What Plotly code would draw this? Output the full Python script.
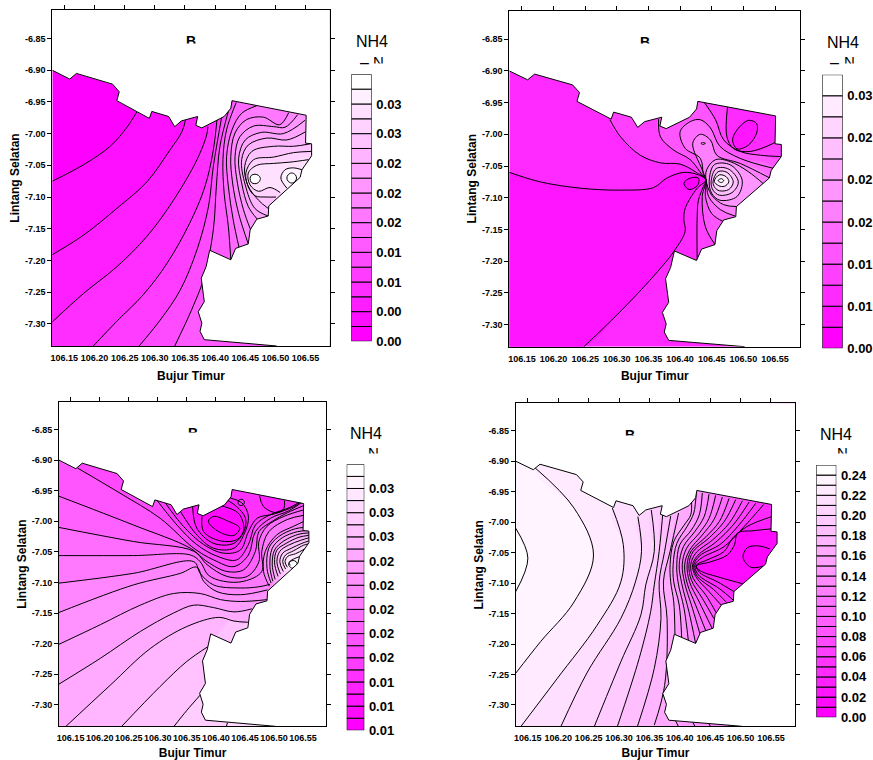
import plotly.graph_objects as go

# ---------------- shared reading of the map ----------------
COAST_LON = [106.13,106.159,106.170,106.230,106.241,106.237,106.291,106.295,106.323,106.333,106.344,106.371,106.368,106.378,106.415,106.426,106.428,106.551,106.550,106.560,106.560,106.544,106.541,106.489,106.488,106.469,106.458,106.455,106.434,106.426,106.391,106.385,106.377,106.382,106.372,106.378,106.375,106.382,106.502]
COAST_LAT = [-6.900,-6.914,-6.905,-6.922,-6.934,-6.948,-6.976,-6.965,-6.973,-6.989,-6.980,-6.973,-6.987,-6.991,-6.973,-6.960,-6.948,-6.971,-7.015,-7.016,-7.035,-7.057,-7.069,-7.114,-7.130,-7.135,-7.152,-7.174,-7.181,-7.199,-7.184,-7.210,-7.228,-7.265,-7.281,-7.299,-7.312,-7.325,-7.335]
X_RANGE = [106.13, 106.59]
Y_RANGE = [-7.335, -6.805]
LON_TICKS = [106.15,106.20,106.25,106.30,106.35,106.40,106.45,106.50,106.55]
LON_LABELS = ["106.15","106.20","106.25","106.30","106.35","106.40","106.45","106.50","106.55"]
LAT_TICKS = [-6.85,-6.90,-6.95,-7.00,-7.05,-7.10,-7.15,-7.20,-7.25,-7.30]
LAT_LABELS = ["-6.85","-6.90","-6.95","-7.00","-7.05","-7.10","-7.15","-7.20","-7.25","-7.30"]

# ---------------- colour scale levels and labels ----------------
P1_LEVELS = [0,.002,.004,.006,.008,.010,.012,.014,.016,.018,.020,.022,.024,.026,.028,.030,.032,.034,.036]
P1_TICKS = [0,.004,.008,.012,.016,.020,.024,.028,.032]
P1_LABELS = ["0.00","0.00","0.01","0.01","0.02","0.02","0.02","0.03","0.03"]
P2_LEVELS = [0,.0025,.005,.0075,.01,.0125,.015,.0175,.02,.0225,.025,.0275,.03,.0325]
P2_TICKS = [0,.005,.01,.015,.02,.025,.03]
P2_LABELS = ["0.00","0.01","0.01","0.02","0.02","0.02","0.03"]
P3_LEVELS = [.0075,.00875,.01,.01125,.0125,.01375,.015,.01625,.0175,.01875,.02,.02125,.0225,.02375,.025,.02625,.0275,.02875,.03,.03125,.0325,.03375,.035]
P3_TICKS = [.0075,.01,.0125,.015,.0175,.02,.0225,.025,.0275,.03,.0325]
P3_LABELS = ["0.01","0.01","0.01","0.02","0.02","0.02","0.02","0.02","0.03","0.03","0.03"]
P4_LEVELS = [0,.01,.02,.03,.04,.05,.06,.07,.08,.09,.10,.11,.12,.13,.14,.15,.16,.17,.18,.19,.20,.21,.22,.23,.24,.25]
P4_TICKS = [0,.02,.04,.06,.08,.10,.12,.14,.16,.18,.20,.22,.24]
P4_LABELS = ["0.00","0.02","0.04","0.06","0.08","0.10","0.12","0.14","0.16","0.18","0.20","0.22","0.24"]

# ---------------- isolines: (band above line, lon, lat, closure) ----------------
P1_BASE = 0
P1_LINES = [
 (1,[106.13,106.182,106.226,106.253,106.270],[-7.075,-7.049,-7.020,-6.991,-6.966],"EW"),
 (2,[106.13,106.182,106.237,106.287,106.325,106.345,106.351],[-7.191,-7.160,-7.118,-7.076,-7.026,-6.997,-6.978],"EW"),
 (3,[106.13,106.182,106.237,106.287,106.331,106.370,106.386,106.388],[-7.297,-7.252,-7.210,-7.162,-7.105,-7.041,-7.002,-6.989],"EW"),
 (4,[106.198,106.237,106.281,106.320,106.358,106.383,106.397,106.403],[-7.335,-7.296,-7.254,-7.205,-7.141,-7.084,-7.026,-6.978],"E"),
 (5,[106.274,106.309,106.342,106.370,106.389,106.397,106.411],[-7.335,-7.294,-7.247,-7.183,-7.115,-7.052,-6.973],"E"),
 (6,[106.333,106.361,106.382,106.397,106.402,106.408,106.422],[-7.335,-7.278,-7.226,-7.152,-7.084,-7.020,-6.965],"E"),
 (7,[106.426,106.422,106.415,106.413,106.419,106.435],[-7.200,-7.147,-7.094,-7.041,-6.994,-6.951],"E"),
 (8,[106.440,106.430,106.422,106.419,106.428,106.444,106.469],[-7.181,-7.136,-7.084,-7.036,-6.994,-6.968,-6.956],"E"),
 (9,[106.455,106.439,106.429,106.426,106.433,106.452,106.480,106.507,106.522],[-7.174,-7.126,-7.078,-7.036,-6.999,-6.978,-6.974,-6.986,-6.967],"E"),
 (10,[106.459,106.447,106.437,106.433,106.441,106.464,106.497,106.516,106.537],[-7.152,-7.120,-7.078,-7.036,-7.005,-6.988,-6.989,-6.990,-6.970],"E"),
 (11,[106.470,106.455,106.444,106.439,106.450,106.477,106.513,106.549],[-7.135,-7.115,-7.078,-7.039,-7.010,-6.998,-7.000,-6.979],"E"),
 (12,[106.488,106.466,106.450,106.444,106.455,106.486,106.519,106.550],[-7.130,-7.118,-7.081,-7.041,-7.018,-7.007,-7.010,-6.997],"E"),
 (13,[106.488,106.472,106.454,106.449,106.461,106.497,106.530,106.558],[-7.118,-7.105,-7.081,-7.052,-7.028,-7.020,-7.020,-7.016],"E"),
 (14,[106.501,106.486,106.466,106.455,106.451,106.464,106.497,106.530,106.560],[-7.100,-7.100,-7.098,-7.084,-7.062,-7.041,-7.037,-7.030,-7.028],"E"),
 (15,[106.508,106.491,106.472,106.458,106.455,106.469,106.497,106.524,106.555],[-7.093,-7.085,-7.091,-7.081,-7.062,-7.050,-7.047,-7.045,-7.041],"S"),
 (16,[106.519,106.509,106.516,106.530,106.544],[-7.086,-7.070,-7.057,-7.054,-7.057],"S"),
 (17,[106.458,106.460,106.466,106.472,106.475,106.472,106.466,106.460],[-7.071,-7.066,-7.064,-7.066,-7.071,-7.077,-7.079,-7.077],"ring"),
 (17,[106.519,106.521,106.527,106.533,106.535,106.533,106.527,106.521],[-7.070,-7.065,-7.062,-7.065,-7.070,-7.075,-7.078,-7.075],"ring"),
]
P2_BASE = 2
P2_LINES = [
 (1,[106.13,106.179,106.243,106.306,106.358,106.379,106.406,106.429,106.441,106.427,106.408,106.406,106.408,106.390,106.364,106.311,106.248],[-7.060,-7.075,-7.085,-7.088,-7.084,-7.069,-7.060,-7.064,-7.072,-7.085,-7.117,-7.135,-7.153,-7.185,-7.217,-7.274,-7.335],"W"),
 (0,[106.406,106.416,106.429,106.428,106.414],[-7.077,-7.069,-7.069,-7.080,-7.087],"ring"),
 (3,[106.427,106.427,106.429,106.437,106.441,106.424,106.400,106.369,106.337,106.306,106.289],[-7.198,-7.130,-7.104,-7.082,-7.072,-7.059,-7.047,-7.045,-7.033,-7.004,-6.977],"E"),
 (4,[106.456,106.440,106.435,106.441,106.437,106.416,106.390,106.369,106.366],[-7.175,-7.146,-7.098,-7.072,-7.067,-7.040,-7.025,-7.004,-6.976],"E"),
 (3,[106.437,106.456,106.469,106.495,106.527,106.559],[-6.948,-6.977,-7.009,-7.027,-7.033,-7.035],"NE"),
 (2,[106.475,106.474,106.485,106.511,106.550],[-6.956,-7.004,-7.023,-7.027,-7.013],"NE"),
 (1,[106.483,106.490,106.508,106.521,106.521,106.508,106.490],[-7.009,-6.993,-6.978,-6.983,-6.998,-7.017,-7.023],"ring"),
 (5,[106.469,106.450,106.440,106.441,106.437,106.432,106.408,106.400,106.416,106.432,106.448,106.463,106.495,106.549],[-7.138,-7.125,-7.098,-7.072,-7.064,-7.038,-7.022,-6.996,-6.980,-6.977,-6.990,-7.019,-7.038,-7.054],"S"),
 (6,[106.487,106.464,106.445,106.441,106.435,106.420,106.432,106.448,106.458,106.495,106.542],[-7.129,-7.119,-7.098,-7.072,-7.056,-7.014,-7.000,-7.009,-7.033,-7.046,-7.069],"S"),
 (7,[106.433,106.436,106.440,106.436],[-7.014,-7.013,-7.014,-7.016],"ring"),
 (7,[106.490,106.469,106.450,106.441,106.442,106.456,106.479,106.508,106.534],[-7.114,-7.111,-7.096,-7.072,-7.056,-7.040,-7.043,-7.059,-7.080],"S"),
 (8,[106.446,106.454,106.479,106.498,106.490,106.463,106.450],[-7.075,-7.048,-7.048,-7.072,-7.098,-7.104,-7.093],"ring"),
 (9,[106.449,106.457,106.477,106.492,106.482,106.462,106.452],[-7.075,-7.054,-7.055,-7.075,-7.092,-7.096,-7.088],"ring"),
 (10,[106.452,106.460,106.474,106.484,106.477,106.462,106.455],[-7.075,-7.059,-7.060,-7.075,-7.087,-7.089,-7.084],"ring"),
 (11,[106.454,106.462,106.473,106.477,106.470,106.461],[-7.074,-7.064,-7.067,-7.075,-7.082,-7.081],"ring"),
 (12,[106.460,106.465,106.469,106.465],[-7.073,-7.070,-7.073,-7.076],"ring"),
]
P3_BASE = 18
P3_LINES = [
 (17,[106.418,106.420],[-7.335,-7.329],"NS"),
 (16,[106.328,106.350,106.373],[-7.335,-7.309,-7.284],"NS"),
 (15,[106.238,106.304,106.350,106.386],[-7.335,-7.270,-7.229,-7.205],"NS"),
 (14,[106.142,106.218,106.287,106.350,106.405,106.431,106.455],[-7.335,-7.268,-7.208,-7.172,-7.157,-7.163,-7.165],"NS"),
 (13,[106.13,106.201,106.270,106.327,106.362,106.396,106.431,106.462],[-7.266,-7.224,-7.180,-7.150,-7.137,-7.141,-7.148,-7.143],"N"),
 (12,[106.13,106.201,106.270,106.327,106.373,106.408,106.442,106.488],[-7.201,-7.169,-7.137,-7.118,-7.118,-7.128,-7.131,-7.128],"N"),
 (11,[106.13,106.258,106.339,106.367,106.379,106.402,106.442,106.489],[-7.149,-7.104,-7.085,-7.075,-7.098,-7.115,-7.120,-7.112],"N"),
 (10,[106.13,106.258,106.362,106.373,106.396,106.442,106.474,106.493],[-7.101,-7.085,-7.066,-7.085,-7.104,-7.109,-7.107,-7.103],"N"),
 (9,[106.13,106.258,106.356,106.373,106.387,106.413,106.448,106.479,106.479,106.491,106.523,106.552],[-7.056,-7.056,-7.055,-7.066,-7.088,-7.098,-7.098,-7.082,-7.049,-7.017,-6.997,-6.990],"N"),
 (8,[106.13,106.258,106.362,106.385,106.419,106.454,106.474,106.474,106.488,106.517,106.552],[-7.010,-7.033,-7.049,-7.071,-7.090,-7.090,-7.066,-7.033,-7.008,-6.992,-6.981],"N"),
 (7,[106.13,106.258,106.356,106.385,106.419,106.448,106.468,106.474,106.497,106.523,106.552],[-6.959,-7.006,-7.044,-7.066,-7.082,-7.079,-7.049,-7.017,-7.000,-6.986,-6.974],"N"),
 (6,[106.162,106.235,106.304,106.362,106.396,106.431,106.456,106.468,106.494,106.525,106.551],[-6.913,-6.954,-6.995,-7.044,-7.063,-7.074,-7.055,-7.017,-6.995,-6.983,-6.967],"N"),
 (5,[106.298,106.333,106.367,106.402,106.436,106.456,106.468,106.494,106.528,106.550],[-6.965,-7.006,-7.038,-7.057,-7.063,-7.038,-7.006,-6.989,-6.977,-6.965],"N"),
 (4,[106.313,106.344,106.379,106.413,106.442,106.456,106.471,106.500,106.534,106.548],[-6.970,-7.008,-7.038,-7.052,-7.047,-7.017,-6.995,-6.988,-6.976,-6.967],"N"),
 (3,[106.339,106.367,106.396,106.431,106.448,106.456,106.445,106.425],[-6.984,-7.022,-7.044,-7.044,-7.022,-6.992,-6.970,-6.962],"TOP"),
 (2,[106.360,106.367,106.396,106.431,106.448,106.451,106.436,106.419],[-6.976,-7.011,-7.036,-7.036,-7.017,-6.995,-6.976,-6.965],"TOP"),
 (1,[106.376,106.379,106.408,106.436,106.448,106.439,106.402],[-6.992,-7.017,-7.032,-7.030,-7.014,-6.987,-6.973],"TOP"),
 (0,[106.387,106.396,106.419,106.441,106.431,106.405],[-7.000,-6.992,-6.999,-7.011,-7.023,-7.017],"ring"),
 (3,[106.475,106.482,106.505,106.517,106.518],[-6.958,-6.976,-6.986,-6.979,-6.966],"TOP2"),
 (5,[106.438,106.440,106.443,106.447,106.449,106.447,106.443,106.440],[-6.969,-6.965,-6.964,-6.965,-6.969,-6.973,-6.974,-6.973],"ring"),
 (11,[106.492,106.482,106.485,106.505,106.534,106.554],[-7.106,-7.082,-7.049,-7.022,-7.008,-6.999],"S"),
 (12,[106.495,106.488,106.491,106.508,106.537,106.554],[-7.101,-7.077,-7.044,-7.025,-7.012,-7.010],"S"),
 (13,[106.498,106.493,106.497,106.514,106.540,106.559],[-7.098,-7.074,-7.044,-7.027,-7.017,-7.015],"S"),
 (14,[106.502,106.497,106.501,106.517,106.543,106.560],[-7.095,-7.071,-7.047,-7.032,-7.021,-7.019],"S"),
 (15,[106.507,106.501,106.505,106.521,106.543,106.560],[-7.090,-7.068,-7.047,-7.036,-7.026,-7.023],"S"),
 (16,[106.511,106.505,106.510,106.525,106.546,106.560],[-7.086,-7.066,-7.049,-7.039,-7.031,-7.027],"S"),
 (17,[106.516,106.510,106.515,106.530,106.548,106.560],[-7.082,-7.066,-7.052,-7.044,-7.036,-7.032],"S"),
 (18,[106.520,106.515,106.520,106.534,106.551,106.559],[-7.078,-7.066,-7.055,-7.048,-7.039,-7.037],"S"),
 (19,[106.523,106.519,106.524,106.537,106.553],[-7.075,-7.066,-7.057,-7.053,-7.045],"S"),
 (20,[106.528,106.526,106.533,106.546],[-7.072,-7.067,-7.062,-7.057],"S"),
 (21,[106.525,106.528,106.533,106.538,106.540,106.538,106.533,106.528],[-7.070,-7.066,-7.064,-7.066,-7.070,-7.075,-7.077,-7.075],"ring"),
]
P4_BASE = 24
P4_LINES = [
 (23,[106.13,106.150,106.13],[-7.114,-7.059,-7.010],"ALL"),
 (22,[106.13,106.171,106.226,106.258,106.226,106.162],[-7.248,-7.196,-7.131,-7.054,-6.977,-6.911],"EW"),
 (21,[106.138,106.198,106.264,106.303,106.307,106.289],[-7.336,-7.257,-7.169,-7.098,-7.037,-6.977],"E"),
 (20,[106.204,106.248,106.303,106.327,106.337,106.331],[-7.336,-7.246,-7.158,-7.098,-7.048,-6.991],"E"),
 (19,[106.259,106.303,106.336,106.344,106.358,106.353],[-7.336,-7.229,-7.152,-7.103,-7.048,-6.980],"E"),
 (18,[106.297,106.333,106.352,106.358,106.366,106.373],[-7.336,-7.224,-7.147,-7.103,-7.048,-6.974],"E"),
 (17,[106.330,106.358,106.369,106.366,106.375,106.385],[-7.336,-7.240,-7.158,-7.098,-7.048,-6.990],"E"),
 (16,[106.358,106.375,106.379,106.373,106.384,106.398],[-7.333,-7.268,-7.158,-7.098,-7.048,-6.985],"E"),
 (15,[106.398,106.393],[-7.336,-7.326],"S"),
 (14,[106.426,106.421],[-7.337,-7.328],"S"),
 (13,[106.452,106.447],[-7.337,-7.330],"S"),
 (12,[106.484,106.480],[-7.338,-7.333],"S"),
 (15,[106.392,106.390,106.385,106.384,106.390,106.407,106.418,106.419],[-7.185,-7.131,-7.098,-7.070,-7.032,-7.005,-6.988,-6.963],"E"),
 (14,[106.403,106.399,106.390,106.389,106.395,106.412,106.423,106.427],[-7.189,-7.136,-7.098,-7.070,-7.035,-7.007,-6.985,-6.950],"E"),
 (13,[106.414,106.407,106.397,106.395,106.400,106.419,106.432,106.437],[-7.194,-7.142,-7.098,-7.070,-7.037,-7.013,-6.988,-6.952],"E"),
 (12,[106.426,106.415,106.403,106.399,106.406,106.425,106.440,106.448],[-7.199,-7.147,-7.100,-7.070,-7.040,-7.015,-6.991,-6.954],"E"),
 (11,[106.433,106.421,106.408,106.404,106.411,106.432,106.448,106.459],[-7.183,-7.142,-7.100,-7.070,-7.043,-7.018,-6.994,-6.956],"E"),
 (10,[106.443,106.426,106.412,106.408,106.416,106.437,106.456,106.470],[-7.179,-7.136,-7.100,-7.070,-7.046,-7.021,-6.996,-6.959],"E"),
 (9,[106.454,106.432,106.416,106.412,106.419,106.443,106.465,106.481],[-7.176,-7.131,-7.098,-7.070,-7.047,-7.024,-6.999,-6.961],"E"),
 (8,[106.456,106.437,106.419,106.415,106.422,106.448,106.473,106.492],[-7.158,-7.125,-7.095,-7.070,-7.048,-7.026,-6.999,-6.963],"E"),
 (7,[106.460,106.443,106.422,106.418,106.426,106.454,106.481,106.503],[-7.149,-7.120,-7.092,-7.070,-7.051,-7.029,-7.002,-6.965],"E"),
 (6,[106.468,106.448,106.426,106.421,106.430,106.459,106.489,106.514],[-7.136,-7.114,-7.089,-7.070,-7.054,-7.033,-7.003,-6.967],"E"),
 (5,[106.477,106.456,106.428,106.423,106.433,106.467,106.497,106.525],[-7.132,-7.111,-7.088,-7.070,-7.055,-7.036,-7.005,-6.969],"E"),
 (4,[106.488,106.465,106.430,106.425,106.437,106.473,106.506,106.538],[-7.128,-7.109,-7.086,-7.070,-7.058,-7.040,-7.007,-6.971],"E"),
 (3,[106.489,106.462,106.433,106.427,106.445,106.473,106.487,106.511,106.551],[-7.114,-7.098,-7.083,-7.071,-7.062,-7.048,-7.026,-7.007,-6.991],"E"),
 (1,[106.503,106.467,106.434,106.427,106.451,106.478,106.490,106.495,106.522,106.551],[-7.101,-7.091,-7.080,-7.072,-7.065,-7.054,-7.037,-7.018,-7.014,-7.011],"E"),
 (0,[106.538,106.517,106.504,106.511,106.530,106.548],[-7.072,-7.074,-7.058,-7.042,-7.039,-7.044],"S"),
]

PANELS = [
 dict(lines=P1_LINES, base=P1_BASE, levels=P1_LEVELS, ticks=P1_TICKS, labels=P1_LABELS),
 dict(lines=P2_LINES, base=P2_BASE, levels=P2_LEVELS, ticks=P2_TICKS, labels=P2_LABELS),
 dict(lines=P3_LINES, base=P3_BASE, levels=P3_LEVELS, ticks=P3_TICKS, labels=P3_LABELS),
 dict(lines=P4_LINES, base=P4_BASE, levels=P4_LEVELS, ticks=P4_TICKS, labels=P4_LABELS),
]

# ---------------- page layout (pixels of the 873x760 page) ----------------
W, H = 873, 760
FRAMES = [(52.3,329.7,10,346),(509.3,800.3,10.7,346.7),(59,326.3,402,726.3),(515.7,795.3,403.3,726.3)]
BARS = [(351.3,371.7,74.3,341.3),(822.3,842.7,74.7,348.3),(346.7,364.3,464.3,730.3),(816.3,836.3,465,717.3)]
NH4_POS = [(372,41.7),(842.7,42.7),(366,433),(835.7,435)]
# x centre, cap top, cut line of the clipped panel letter
LETTER_POS = [(191,35.7,43.5),(645.3,36.7,43.3),(192.7,427.7,432.3),(630,429,435)]
# x centre, cap top, cut line of the clipped "N"
N_POS = [(378.3,55,63),(849.7,55,63),(373,446.7,453.3),(842.7,446.7,453.3)]
DASH_POS = [(364,62),(834.3,62),None,None]
FONT = "Liberation Sans"

NE, SE, SW, NW = (106.62,-6.78), (106.62,-7.36), (106.12,-7.36), (106.12,-6.78)
CLOSE = {"E":[NE,SE], "EW":[NE,SE,SW], "S":[SE], "W":[SW], "NE":[NE], "N":[NE,NW], "NS":[NE,NW,SW],
         "ALL":[NW,NE,SE,SW], "ring":[], "TOP":[(106.39,-6.90)], "TOP2":[(106.50,-6.90)]}

def band_color(i, n):
    return f"rgb(255,{round(255*i/(n-1))},255)"

def pxx(x): return x/W
def pxy(y): return 1-y/H

fig = go.Figure()
annotations = []
layout = dict(width=W, height=H, margin=dict(l=0,r=0,t=0,b=0), paper_bgcolor="white", plot_bgcolor="white",
              showlegend=False, autosize=False, barmode="overlay")
bold = dict(family=FONT, color="black", weight="bold")

for k, p in enumerate(PANELS):
    a = 3*k + 1          # map x/y axis
    top = 3*k + 2        # overlay x axis carrying the top ticks
    cb = 3*k + 3         # colour-bar axes
    ax, ay = f"x{a}", f"y{a}"
    n = len(p["levels"]) - 1
    x0, x1, y0, y1 = FRAMES[k]
    layout[f"xaxis{a}"] = dict(domain=[pxx(x0),pxx(x1)], range=X_RANGE, anchor=ay, tickmode="array", automargin=False, tickangle=0,
        tickvals=LON_TICKS, ticktext=LON_LABELS, ticks="outside", ticklen=3, tickcolor="rgba(0,0,0,0)",
        tickfont=dict(size=9, **bold), showline=True, linecolor="black", linewidth=1, mirror=True, showgrid=False, zeroline=False,
        title=dict(text="Bujur Timur", font=dict(size=12, **bold), standoff=9))
    layout[f"yaxis{a}"] = dict(domain=[pxy(y1),pxy(y0)], range=Y_RANGE, anchor=ax, tickmode="array", automargin=False,
        tickvals=LAT_TICKS, ticktext=LAT_LABELS, ticks="outside", ticklen=4, tickcolor="black",
        tickfont=dict(size=9, **bold), showline=True, linecolor="black", linewidth=1, mirror="ticks", showgrid=False, zeroline=False,
        title=dict(text="Lintang Selatan", font=dict(size=12, **bold), standoff=2))
    layout[f"xaxis{top}"] = dict(domain=[pxx(x0),pxx(x1)], range=X_RANGE, anchor=ay, overlaying=ax, side="top", tickmode="array", automargin=False,
        tickvals=LON_TICKS, ticks="outside", ticklen=4, tickcolor="black", showticklabels=False, showline=False, showgrid=False, zeroline=False)
    bx0, bx1, by0, by1 = BARS[k]
    layout[f"xaxis{cb}"] = dict(domain=[pxx(bx0),pxx(bx1)], range=[-.5,.5], anchor=f"y{cb}", visible=False, automargin=False)
    layout[f"yaxis{cb}"] = dict(domain=[pxy(by1),pxy(by0)], range=[p["levels"][0],p["levels"][-1]], anchor=f"x{cb}", side="right", automargin=False,
        tickmode="array", tickvals=p["ticks"], ticktext=p["labels"], ticks="outside", ticklen=1, tickcolor="rgba(0,0,0,0)",
        tickfont=dict(size=13, **bold), showline=False, showgrid=False, zeroline=False)

    # base land
    fig.add_scatter(x=COAST_LON+[106.13], y=COAST_LAT+[-7.335], mode="lines", fill="toself",
                    fillcolor=band_color(p["base"],n), line=dict(width=0), xaxis=ax, yaxis=ay, hoverinfo="skip")
    # filled bands
    for band, lons, lats, closing in p["lines"]:
        ext = CLOSE[closing]
        fx = lons + [q[0] for q in ext]
        fy = lats + [q[1] for q in ext]
        if closing == "ring":
            fx, fy = fx + fx[:1], fy + fy[:1]
        fig.add_scatter(x=fx, y=fy, mode="lines", fill="toself", fillcolor=band_color(band,n),
                        line=dict(width=0, shape="spline"), xaxis=ax, yaxis=ay, hoverinfo="skip")
    # isolines
    for band, lons, lats, closing in p["lines"]:
        lx, ly = (lons+lons[:1], lats+lats[:1]) if closing == "ring" else (lons, lats)
        fig.add_scatter(x=lx, y=ly, mode="lines", line=dict(color="black", width=1, shape="spline"),
                        xaxis=ax, yaxis=ay, hoverinfo="skip")
    # everything off the land is white; the coast is outlined
    fig.add_scatter(x=[106.12,106.60,106.60,106.502]+COAST_LON[::-1]+[106.12],
                    y=[-6.79,-6.79,-7.345,-7.345]+COAST_LAT[::-1]+[-6.90],
                    mode="lines", fill="toself", fillcolor="white", line=dict(width=0), xaxis=ax, yaxis=ay, hoverinfo="skip")
    fig.add_scatter(x=COAST_LON, y=COAST_LAT, mode="lines", line=dict(color="black", width=1),
                    xaxis=f"x{top}", yaxis=ay, hoverinfo="skip")
    # colour bar
    lv = p["levels"]
    fig.add_bar(x=[0]*n, y=[lv[i+1]-lv[i] for i in range(n)], base=lv[:-1], width=1,
                marker=dict(color=[band_color(i,n) for i in range(n)], line=dict(color="black", width=1)),
                xaxis=f"x{cb}", yaxis=f"y{cb}", hoverinfo="skip")

    # texts
    nx, ny = NH4_POS[k]
    annotations.append(dict(text="NH4", xref="paper", yref="paper", x=pxx(nx), y=pxy(ny), showarrow=False,
                            xanchor="center", yanchor="middle", font=dict(family=FONT, size=16, color="black")))
    lx, ltop, lcut = LETTER_POS[k]
    annotations.append(dict(text="<b>B</b>", xref="paper", yref="paper", x=pxx(lx), y=pxy(ltop-3.5), showarrow=False,
                            xanchor="center", yanchor="top", borderpad=0, font=dict(family=FONT, size=14, color="black")))
    annotations.append(dict(text=" ", xref="paper", yref="paper", x=pxx(lx), y=pxy(lcut), showarrow=False, width=24, height=12,
                            xanchor="center", yanchor="top", bgcolor="white", borderpad=0, font=dict(size=8)))
    mx, mtop, mcut = N_POS[k]
    annotations.append(dict(text="N", xref="paper", yref="paper", x=pxx(mx), y=pxy(mtop-3.5), showarrow=False,
                            xanchor="center", yanchor="top", borderpad=0, font=dict(family=FONT, size=15, color="black")))
    annotations.append(dict(text=" ", xref="paper", yref="paper", x=pxx(mx), y=pxy(mcut), showarrow=False, width=22, height=9,
                            xanchor="center", yanchor="top", bgcolor="white", borderpad=0, font=dict(size=6)))
    if DASH_POS[k]:
        dx, dy = DASH_POS[k]
        annotations.append(dict(text="–", xref="paper", yref="paper", x=pxx(dx), y=pxy(dy), showarrow=False,
                                xanchor="center", yanchor="middle", borderpad=0, font=dict(family=FONT, size=16, color="black")))

layout["annotations"] = annotations
fig.update_layout(**layout)
fig.write_html("out.html", post_script="document.body.style.margin='0';", config={"displayModeBar": False})
